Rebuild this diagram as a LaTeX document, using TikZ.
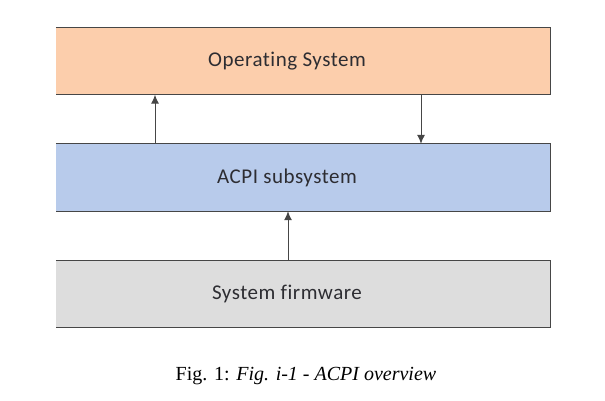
\documentclass[tikz,border=0pt]{standalone}
\usepackage{fontspec}
\setmainfont{Liberation Serif}
\newfontfamily\boxfont[Ligatures=NoCommon,LetterSpace=2.5]{Carlito}
\usepackage{tikz}
\usetikzlibrary{arrows.meta}
\definecolor{osorange}{RGB}{252,206,172}
\definecolor{acpiblue}{RGB}{184,203,235}
\definecolor{fwgray}{RGB}{221,221,221}
\definecolor{edgegray}{RGB}{70,70,70}
\definecolor{textgray}{RGB}{45,45,50}

\begin{document}
\begin{tikzpicture}[x=1pt,y=-1pt,
	layer/.style={fill=#1,minimum width=494pt,minimum height=67pt,inner sep=0pt},
	tag/.style={label={[font=\boxfont\fontsize{21}{25}\selectfont,text=textgray,xshift=-16pt]center:#1}},
	link/.style={-{Latex[length=9pt,width=8pt]},draw=edgegray,line width=1pt}]
	\useasboundingbox (0,0) rectangle (605,400);
	\node[layer=osorange,tag={Operating System}] (os) at (303,61) {};
	\node[layer=acpiblue,tag={ACPI subsystem}] (acpi) at (303,177.5) {};
	\node[layer=fwgray,tag={System firmware}] (fw) at (303,294) {};
	\foreach \n in {os,acpi,fw}
		\draw[edgegray,line width=1pt] (\n.north west) -- (\n.north east) -- (\n.south east) -- (\n.south west);
	
	\draw[link] ([xshift=-148pt]acpi.north) -- ([xshift=-148pt]os.south);
	\draw[link] ([xshift=118pt]os.south) -- ([xshift=118pt]acpi.north);
	\draw[link] ([xshift=-15pt]fw.north) -- ([xshift=-15pt]acpi.south);
	%caption
	\node[font=\fontsize{20}{24}\selectfont] (cap) at (306,376) {Fig. 1: \textit{Fig. i-1 - ACPI overview}};
\end{tikzpicture}
\end{document}
